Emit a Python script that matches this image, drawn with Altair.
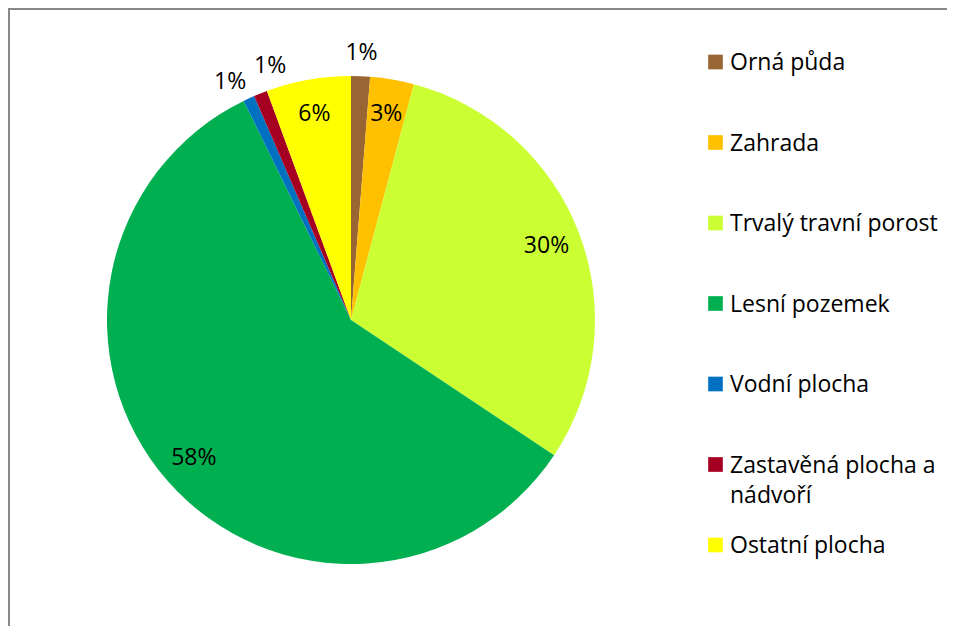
import altair as alt
import pandas as pd

categories = [
    "Orná půda",
    "Zahrada",
    "Trvalý travní porost",
    "Lesní pozemek",
    "Vodní plocha",
    "Zastavěná plocha a nádvoří",
    "Ostatní plocha",
]
shares = [1.25, 2.9, 30.2, 58.4, 0.75, 0.9, 5.6]
labels = ["1%", "3%", "30%", "58%", "1%", "1%", "6%"]
colors = ["#996633", "#FFC000", "#CCFF33", "#00B050", "#0070C0", "#A50021", "#FFFF00"]

df = pd.DataFrame({
    "category": categories,
    "share": shares,
    "label": labels,
    "order": list(range(len(categories))),
})

W, H = 939, 618
CX, CY = 343, 312
FONT = "Open Sans"
FS = 23

color_scale = alt.Scale(domain=categories, range=colors)

base = alt.Chart(df)

pie = base.mark_arc(outerRadius=244).encode(
    theta=alt.Theta("share:Q", stack=True),
    order=alt.Order("order:Q"),
    color=alt.Color("category:N", scale=color_scale, legend=None),
    x=alt.value(CX),
    y=alt.value(CY),
)

pie_labels = (
    base.transform_window(cum="sum(share)", sort=[alt.SortField("order")], frame=[None, 0])
    .transform_calculate(
        nudge="datum.category == 'Vodní plocha' ? -0.6 : (datum.category == 'Zastavěná plocha a nádvoří' ? 1.15 : 0)",
        mid="datum.cum - datum.share / 2 + datum.nudge",
        r="datum.share < 2 ? 267 : 209",
    )
    .mark_text(font=FONT, fontSize=FS, color="black", baseline="middle", align="center")
    .encode(
        theta=alt.Theta("mid:Q", stack=None, scale=alt.Scale(domain=[0, 100], range=[0, 6.283185307179586])),
        radius=alt.Radius("r:Q", scale=None),
        text="label:N",
        x=alt.value(CX),
        y=alt.value(CY),
    )
)

legend_y = alt.Y(
    "category:N",
    sort=categories,
    axis=None,
    scale=alt.Scale(type="point", domain=categories, range=[54, 537], padding=0),
)

legend_squares = base.mark_square(size=215, opacity=1).encode(
    x=alt.value(707.5),
    y=legend_y,
    color=alt.Color("category:N", scale=color_scale, legend=None),
)

legend_text = (
    base.transform_calculate(lt="replace(datum.category, 'plocha a ', 'plocha a\\n')")
    .mark_text(font=FONT, fontSize=FS, color="black", align="left", baseline="alphabetic",
               dy=8, lineBreak="\n", lineHeight=30)
    .encode(
        x=alt.value(722),
        y=legend_y,
        text="lt:N",
    )
)

frame_top = base.mark_rule(color="#888888", strokeWidth=2).encode(
    x=alt.value(0), x2=alt.value(W), y=alt.value(1)
)
frame_left = base.mark_rule(color="#888888", strokeWidth=2).encode(
    x=alt.value(1), y=alt.value(0), y2=alt.value(H)
)

chart = (
    alt.layer(pie, pie_labels, legend_squares, legend_text, frame_top, frame_left)
    .resolve_scale(theta="independent")
    .properties(width=W, height=H, padding=0, autosize=alt.AutoSizeParams(type="none"))
    .configure_view(strokeWidth=0)
)

chart.save("out.html", embed_options={"renderer": "svg", "actions": False})
